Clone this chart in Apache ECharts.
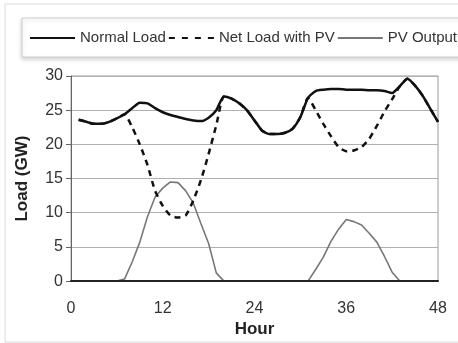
<!DOCTYPE html>
<html>
<head>
<meta charset="utf-8">
<script src="https://cdn.jsdelivr.net/npm/echarts@6/dist/echarts.min.js"></script>
<style>
  html, body {margin: 0; padding: 0; background: #fff;}
  #main {width: 458px; height: 343px;}
</style>
</head>
<body>
<div id="main"></div>
<script>
const hours = [1,2,3,4,5,6,7,8,9,10,11,12,13,14,15,16,17,18,19,20,21,22,23,24,
  25,26,27,28,29,30,31,32,33,34,35,36,37,38,39,40,41,42,43,44,45,46,47,48];
const normalLoad = [23.6,23.3,23.0,23.0,23.3,23.8,24.4,25.3,26.1,26.0,25.3,24.7,24.3,24.0,23.7,23.5,23.4,23.9,25.0,27.0,26.7,26.0,25.0,23.5,
  22.0,21.5,21.5,21.7,22.3,24.0,26.8,27.8,28.0,28.1,28.1,28.0,28.0,28.0,27.9,27.9,27.8,27.5,28.5,29.6,28.6,27.1,25.2,23.3];
const netLoad = [23.6,23.3,23.0,23.0,23.3,23.8,24.4,22.5,20.0,17.0,13.2,11.0,9.6,9.3,9.6,11.8,14.8,18.6,22.8,27.0,26.7,26.0,25.0,23.5,
  22.0,21.5,21.5,21.7,22.3,24.0,26.8,25.0,23.0,21.2,19.6,19.0,19.1,19.6,20.8,22.7,24.8,26.6,28.5,29.6,28.6,27.1,25.2,23.3];
const pvOutput = [0,0,0,0,0,0,0.3,2.8,5.7,9.4,12.3,13.6,14.5,14.4,13.2,11.4,8.4,5.5,1.2,0,0,0,0,0,
  0,0,0,0,0,0,0,1.7,3.5,5.8,7.6,9.0,8.7,8.2,7.0,5.7,3.6,1.3,0,0,0,0,0,0];
const xTicks = [0, 12, 24, 36, 48];
const yTicks = [0, 5, 10, 15, 20, 25, 30];
const seriesNames = ['Normal Load', 'Net Load with PV', 'PV Output'];

const pairs = vals => hours.map((h, i) => [h, vals[i]]);
const font = '"Liberation Sans", Arial, sans-serif';

// legend samples drawn as thin filled paths (solid / four dashes)
const solidIcon = 'path://M0,0h45v2h-45z';
const dashIcon = 'path://M0,0h6v2h-6z M13,0h6v2h-6z M26,0h6v2h-6z M39,0h6v2h-6z';

const chart = echarts.init(document.getElementById('main'));
chart.setOption({
  animation: false,
  backgroundColor: '#fff',
  graphic: [{
    type: 'rect',
    shape: {x: 5, y: 4, width: 460, height: 338},
    style: {fill: 'none', stroke: '#dcdcdc', lineWidth: 1},
    silent: true
  }],
  legend: {
    data: [
      {name: seriesNames[0], icon: solidIcon, itemStyle: {color: '#111', borderWidth: 0}},
      {name: seriesNames[1], icon: dashIcon, itemStyle: {color: '#111', borderWidth: 0}},
      {name: seriesNames[2], icon: solidIcon, itemStyle: {color: '#777', borderWidth: 0}}
    ],
    left: 22,
    top: 18,
    width: 460,
    padding: [12, 20, 11, 8],
    itemWidth: 45,
    itemHeight: 2,
    itemGap: 3,
    backgroundColor: '#fff',
    borderColor: '#cfcfcf',
    borderWidth: 1,
    shadowBlur: 4,
    shadowColor: 'rgba(0,0,0,0.18)',
    shadowOffsetY: 2,
    textStyle: {fontFamily: font, fontSize: 15, color: '#333', lineHeight: 16}
  },
  grid: {
    left: 71, right: 20, top: 76, bottom: 61,
    show: true, borderColor: '#9a9a9a', borderWidth: 1
  },
  xAxis: {
    type: 'value',
    min: xTicks[0],
    max: xTicks[xTicks.length - 1],
    interval: 12,
    z: 10,
    name: 'Hour',
    nameLocation: 'middle',
    nameGap: 37,
    nameTextStyle: {fontFamily: font, fontSize: 17, fontWeight: 'bold', color: '#222'},
    axisLine: {lineStyle: {color: '#222', width: 2}},
    axisTick: {show: false},
    splitLine: {show: false},
    axisLabel: {fontFamily: font, fontSize: 16, color: '#333', margin: 19}
  },
  yAxis: {
    type: 'value',
    min: yTicks[0],
    max: yTicks[yTicks.length - 1],
    interval: 5,
    name: 'Load (GW)',
    nameLocation: 'middle',
    nameGap: 40,
    nameTextStyle: {fontFamily: font, fontSize: 17, fontWeight: 'bold', color: '#222'},
    axisLine: {show: true, lineStyle: {color: '#666', width: 1}},
    axisTick: {show: true, length: 5, lineStyle: {color: '#666'}},
    splitLine: {lineStyle: {color: '#b0b0b0', width: 1}},
    axisLabel: {fontFamily: font, fontSize: 16, color: '#333', margin: 8}
  },
  series: [
    {
      name: seriesNames[1],
      type: 'line',
      data: pairs(netLoad),
      symbol: 'none',
      smooth: 0.2,
      z: 3,
      lineStyle: {color: '#111', width: 2.5, type: [6, 5]},
      itemStyle: {color: '#111'}
    },
    {
      name: seriesNames[0],
      type: 'line',
      data: pairs(normalLoad),
      symbol: 'none',
      smooth: 0.2,
      z: 4,
      lineStyle: {color: '#111', width: 2.5},
      itemStyle: {color: '#111'}
    },
    {
      name: seriesNames[2],
      type: 'line',
      data: pairs(pvOutput),
      symbol: 'none',
      z: 2,
      lineStyle: {color: '#777', width: 1.6},
      itemStyle: {color: '#777'}
    }
  ]
});
</script>
</body>
</html>
